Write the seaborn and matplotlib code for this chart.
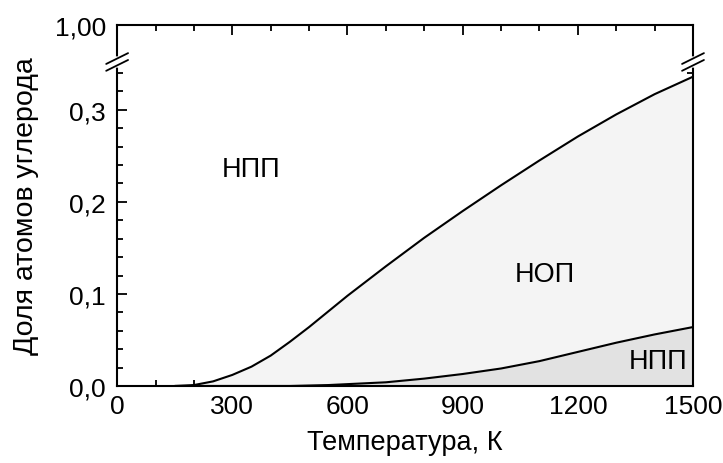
import matplotlib
matplotlib.use("Agg")
import matplotlib.pyplot as plt
import numpy as np
import pandas as pd
import seaborn as sns
from matplotlib.ticker import MultipleLocator, FixedLocator

# Data
temperature = [150, 200, 250, 300, 350, 400, 450, 500, 550, 600, 700, 800,
               900, 1000, 1100, 1200, 1300, 1400, 1500]
upper_frac = [0.0, 0.001, 0.005, 0.012, 0.021, 0.033, 0.048, 0.064, 0.081,
              0.098, 0.130, 0.161, 0.190, 0.218, 0.245, 0.271, 0.295, 0.317, 0.336]
lower_frac = [0.0, 0.0, 0.0, 0.0, 0.0, 0.0, 0.0, 0.0005, 0.001,
              0.002, 0.004, 0.008, 0.013, 0.019, 0.027, 0.037, 0.047, 0.056, 0.064]
region_labels = ["НПП", "НОП", "НПП"]
region_pos = [(350, 0.236), (1115, 0.122), (1408, 0.027)]
y_ticks = [0.0, 0.1, 0.2, 0.3, 1.0]
y_ticklabels = ["0,0", "0,1", "0,2", "0,3", "1,00"]
x_ticks = [0, 300, 600, 900, 1200, 1500]

df = pd.DataFrame({"T": temperature, "upper": upper_frac, "lower": lower_frac})

sns.set_style("ticks")
plt.rcParams['font.family'] = ['Liberation Sans', 'DejaVu Sans']
plt.rcParams['xtick.direction'] = 'in'
plt.rcParams['ytick.direction'] = 'in'
for key in ['text.color', 'axes.labelcolor', 'xtick.color', 'ytick.color', 'axes.edgecolor']:
    plt.rcParams[key] = 'black'

fig, ax = plt.subplots(figsize=(7.23, 4.64), dpi=100)
fig.subplots_adjust(left=0.162, right=0.9585, bottom=0.166, top=0.944)

# broken y axis: 0..brk linear, brk..1 squeezed
brk = 0.352
k = 0.062


def fwd(y):
    y = np.asarray(y, dtype=float)
    return np.where(y <= brk, y, brk + (y - brk) * k)


def inv(y):
    y = np.asarray(y, dtype=float)
    return np.where(y <= brk, y, brk + (y - brk) / k)


ax.set_yscale('function', functions=(fwd, inv))

ax.fill_between(df["T"], df["lower"], df["upper"], color="#f4f4f4", lw=0)
ax.fill_between(df["T"], 0, df["lower"], color="#e2e2e2", lw=0)
sns.lineplot(data=df, x="T", y="upper", color="black", lw=1.5, ax=ax)
sns.lineplot(data=df, x="T", y="lower", color="black", lw=1.5, ax=ax)

for lab, (x, y) in zip(region_labels, region_pos):
    ax.text(x, y, lab, ha="center", va="center", fontsize=19.5)

ax.set_xlim(0, 1500)
ax.set_ylim(0, 1.0)
ax.xaxis.set_major_locator(FixedLocator(x_ticks))
ax.xaxis.set_minor_locator(MultipleLocator(100))
ax.yaxis.set_major_locator(FixedLocator(y_ticks))
ax.set_yticklabels(y_ticklabels)
ax.yaxis.set_minor_locator(FixedLocator(np.arange(0.02, 0.35, 0.02)))
ax.tick_params(which="both", top=True, right=True, width=1.3, labelsize=19)
ax.tick_params(which="major", length=7)
ax.tick_params(axis="x", which="major", pad=6)
ax.tick_params(axis="y", which="major", pad=8)
ax.tick_params(which="minor", length=4)
for s in ax.spines.values():
    s.set_linewidth(1.5)

ax.set_xlabel("Температура, К", fontsize=19.5, labelpad=8)
ax.set_ylabel("Доля атомов углерода", fontsize=20.5, labelpad=11)

# axis break marks on both side spines
yc = fwd(brk) / fwd(1.0)
dx, dy, sep = 0.019, 0.015, 0.0095
for xs in (0.0, 1.0):
    ax.plot([xs, xs], [yc - sep, yc + sep], color="white", lw=4,
            transform=ax.transAxes, clip_on=False, zorder=5)
    for off in (-sep, sep):
        ax.plot([xs - dx, xs + dx], [yc + off - dy, yc + off + dy],
                color="black", lw=1.3, transform=ax.transAxes,
                clip_on=False, zorder=6)

fig.savefig("out.png", dpi=100)
